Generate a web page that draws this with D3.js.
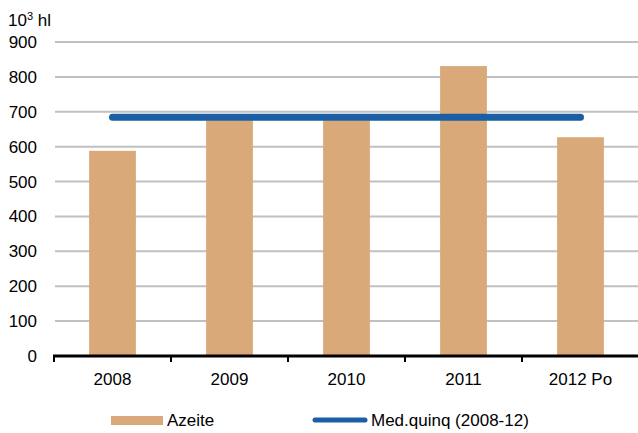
<!DOCTYPE html>
<html>
<head>
<meta charset="utf-8">
<script src="https://cdn.jsdelivr.net/npm/d3@7"></script>
<style>
  body { margin: 0; background: #fff; }
  svg { display: block; font-family: "Liberation Sans", Arial, sans-serif; }
</style>
</head>
<body>
<svg id="chart" width="638" height="433"></svg>
<script>
// olive oil production, 10^3 hl
var years = ["2008", "2009", "2010", "2011", "2012 Po"];
var azeite = [588, 676, 676, 831, 627];
var mediaQuinq = [684, 684, 684, 684, 684];
var yTicks = [0, 100, 200, 300, 400, 500, 600, 700, 800, 900];

var svg = d3.select("#chart");

var x = d3.scaleBand()
    .domain(years)
    .range([54, 639])
    .paddingInner(0.6)
    .paddingOuter(0.3);

var y = d3.scaleLinear()
    .domain([0, 900])
    .range([356, 42]);

// grid
svg.append("g")
    .selectAll("line")
    .data(yTicks.filter(function(d) { return d > 0; }))
    .enter().append("line")
    .attr("x1", 55)
    .attr("x2", 638)
    .attr("y1", function(d) { return y(d); })
    .attr("y2", function(d) { return y(d); })
    .attr("stroke", "#c0c0c0")
    .attr("stroke-width", 2);

// y labels
svg.append("g")
    .selectAll("text")
    .data(yTicks)
    .enter().append("text")
    .attr("x", 37)
    .attr("y", function(d) { return y(d); })
    .attr("dy", "0.35em")
    .attr("text-anchor", "end")
    .attr("font-size", 17)
    .attr("fill", "#000")
    .text(function(d) { return d; });

var unit = svg.append("text")
    .attr("x", 8)
    .attr("y", 26)
    .attr("font-size", 17)
    .attr("fill", "#000");
unit.append("tspan").text("10");
unit.append("tspan").attr("font-size", 11).attr("dy", -6).text("3");
unit.append("tspan").attr("dy", 6).text(" hl");

// bars
svg.append("g")
    .selectAll("rect")
    .data(azeite)
    .enter().append("rect")
    .attr("x", function(d, i) { return x(years[i]); })
    .attr("width", x.bandwidth())
    .attr("y", function(d) { return y(d); })
    .attr("height", function(d) { return y(0) - y(d); })
    .attr("fill", "#d9a979");

// average line
var line = d3.line()
    .x(function(d, i) { return x(years[i]) + x.bandwidth() / 2; })
    .y(function(d) { return y(d); });

svg.append("path")
    .datum(mediaQuinq)
    .attr("d", line)
    .attr("fill", "none")
    .attr("stroke", "#1a5fa3")
    .attr("stroke-width", 7)
    .attr("stroke-linecap", "round");

// x axis
var xAxis = svg.append("g");
xAxis.append("line")
    .attr("x1", 53)
    .attr("x2", 638)
    .attr("y1", y(0))
    .attr("y2", y(0))
    .attr("stroke", "#000")
    .attr("stroke-width", 3);

var step = x.step();
xAxis.selectAll("line.tick")
    .data(years)
    .enter().append("line")
    .attr("class", "tick")
    .attr("x1", function(d) { return x(d) - x.paddingOuter() * step; })
    .attr("x2", function(d) { return x(d) - x.paddingOuter() * step; })
    .attr("y1", y(0))
    .attr("y2", y(0) + 6)
    .attr("stroke", "#000")
    .attr("stroke-width", 2);

xAxis.selectAll("text")
    .data(years)
    .enter().append("text")
    .attr("x", function(d) { return x(d) + x.bandwidth() / 2; })
    .attr("y", 385)
    .attr("text-anchor", "middle")
    .attr("font-size", 17)
    .attr("fill", "#000")
    .text(function(d) { return d; });

// legend
var legend = svg.append("g");
legend.append("rect")
    .attr("x", 111).attr("y", 416)
    .attr("width", 52).attr("height", 9)
    .attr("fill", "#d9a979");
legend.append("text")
    .attr("x", 167).attr("y", 426)
    .attr("font-size", 17)
    .text("Azeite");
legend.append("line")
    .attr("x1", 315).attr("x2", 365)
    .attr("y1", 420).attr("y2", 420)
    .attr("stroke", "#1a5fa3")
    .attr("stroke-width", 5)
    .attr("stroke-linecap", "round");
legend.append("text")
    .attr("x", 371).attr("y", 426)
    .attr("font-size", 17)
    .text("Med.quinq (2008-12)");
</script>
</body>
</html>
